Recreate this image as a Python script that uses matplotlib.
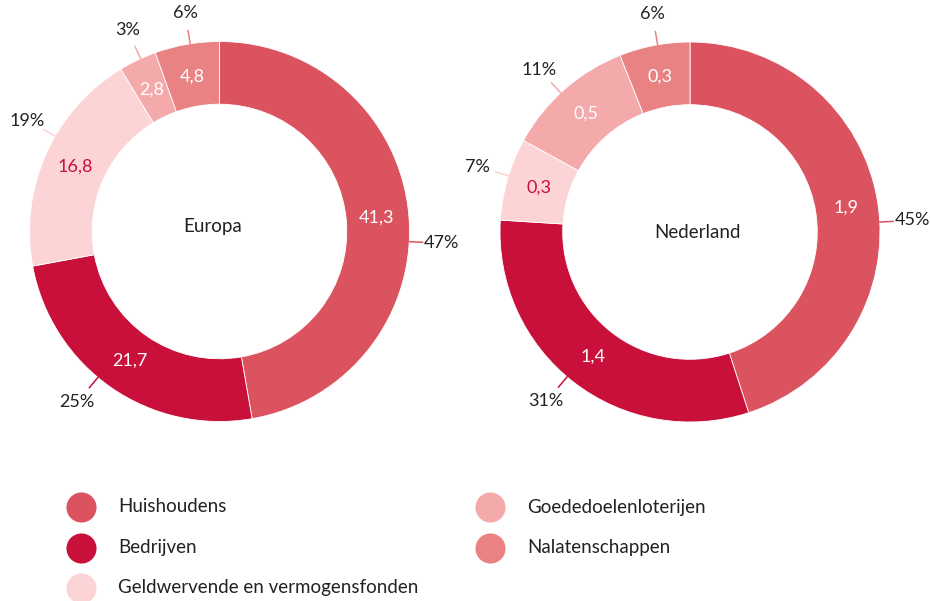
import numpy as np
import matplotlib
matplotlib.use("Agg")
import matplotlib.pyplot as plt

plt.rcParams['font.family'] = ['Lato', 'DejaVu Sans']

# data
categories = ['Huishoudens', 'Bedrijven', 'Geldwervende en vermogensfonden',
              'Goededoelenloterijen', 'Nalatenschappen']
europa_values = [41.3, 21.7, 16.8, 2.8, 4.8]
europa_pct = [47, 25, 19, 3, 6]
nl_values = [1.9, 1.4, 0.3, 0.5, 0.3]
nl_pct = [45, 31, 7, 11, 6]

colors = ['#db535f', '#c8103b', '#fdd4d6', '#f4aaaa', '#e98283']
value_colors = ['white', 'white', '#c8103b', 'white', 'white']
dark = '#222222'

W, H = 931, 601
R = 190  # outer radius in px
fig = plt.figure(figsize=(W / 100, H / 100), dpi=100)


def donut(cx, cy, title, sizes, values, pct, nudge, title_off):
    half = 260
    ax = fig.add_axes([(cx - half) / W, 1 - (cy + half) / H, 2 * half / W, 2 * half / H])
    ax.pie(sizes, colors=colors, startangle=90, counterclock=False, radius=1,
           wedgeprops=dict(width=0.33, edgecolor='white', linewidth=0.6))
    lim = half / R
    ax.set_xlim(-lim, lim)
    ax.set_ylim(-lim, lim)
    ax.set_aspect('equal')
    ax.axis('off')
    ax.text(title_off[0] / R, title_off[1] / R, title, ha='center', va='center',
            fontsize=13.5, color=dark)

    frac = np.array(sizes) / np.sum(sizes)
    starts = np.concatenate([[0], np.cumsum(frac)[:-1]])
    for i, (v, p) in enumerate(zip(values, pct)):
        mid = np.deg2rad((starts[i] + frac[i] / 2) * 360)
        ax.text(0.83 * np.sin(mid), 0.83 * np.cos(mid), f"{v:.1f}".replace('.', ','),
                ha='center', va='center', fontsize=13, color=value_colors[i])
        ang = mid + np.deg2rad(nudge[i])
        sx, sy = np.sin(ang), np.cos(ang)
        ax.plot([1.0 * sx, 1.07 * sx], [1.0 * sy, 1.07 * sy], color=colors[i],
                lw=1.1, clip_on=False)
        ax.text(1.17 * sx, 1.165 * sy, f"{p}%", ha='center', va='center',
                fontsize=13, color=dark)


donut(219.5, 231.5, 'Europa', europa_values, europa_values, europa_pct,
      [8, 5, 6, 1, 1], (-7, 5))
donut(690, 232, 'Nederland', nl_pct, nl_values, nl_pct,
      [6, 2.5, 1, -1.5, 1], (8, 0))

# legend
lg = fig.add_axes([0, 0, 1, 1])
lg.set_xlim(0, W)
lg.set_ylim(H, 0)
lg.axis('off')
col_x = [81, 490]
row_y = [507, 548, 588]
for i, name in enumerate(categories):
    c, r = divmod(i, 3)
    lg.scatter(col_x[c], row_y[r], s=470, color=colors[i], lw=0)
    lg.text(col_x[c] + 37, row_y[r], name, ha='left', va='center',
            fontsize=13.5, color=dark)

fig.savefig('out.png', dpi=100)
